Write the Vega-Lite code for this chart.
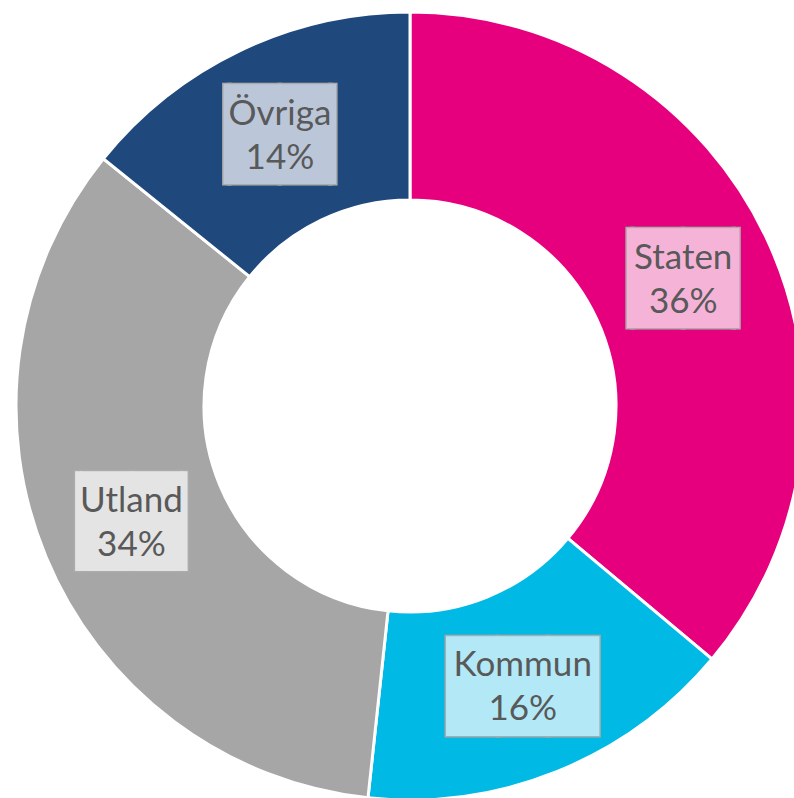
{
  "$schema": "https://vega.github.io/schema/vega-lite/v6.json",
  "width": 820,
  "height": 812,
  "autosize": "none",
  "padding": 0,
  "background": "white",
  "view": {"stroke": null},
  "data": {"values": [
    {"kategori": "Staten", "andel": 0.361, "nr": 1},
    {"kategori": "Kommun", "andel": 0.156, "nr": 2},
    {"kategori": "Utland", "andel": 0.341, "nr": 3},
    {"kategori": "Övriga", "andel": 0.142, "nr": 4}
  ]},
  "encoding": {
    "theta": {"field": "andel", "type": "quantitative", "stack": true},
    "order": {"field": "nr", "type": "quantitative"}
  },
  "layer": [
    {
      "mark": {"type": "arc", "outerRadius": 394, "innerRadius": 206, "stroke": "white", "strokeWidth": 3},
      "encoding": {
        "color": {"field": "kategori", "type": "nominal", "legend": null,
          "scale": {"domain": ["Staten", "Kommun", "Utland", "Övriga"], "range": ["#E6007E", "#00B9E4", "#A6A6A6", "#1F497D"]}}
      }
    },
    {
      "mark": {"type": "text", "radius": 301.5, "font": "DejaVu Sans Mono", "fontSize": 84, "baseline": "alphabetic", "dy": 29, "stroke": "#ABABAB", "strokeWidth": 3, "fill": "#ABABAB"},
      "encoding": {
        "text": {"condition": {"test": "datum.kategori === 'Kommun'", "value": "███"}, "value": "▕██▏"}
      }
    },
    {
      "mark": {"type": "text", "radius": 301.5, "font": "DejaVu Sans Mono", "fontSize": 84, "baseline": "alphabetic", "dy": 29},
      "encoding": {
        "text": {"condition": {"test": "datum.kategori === 'Kommun'", "value": "███"}, "value": "▕██▏"},
        "color": {"field": "kategori", "type": "nominal", "legend": null,
          "scale": {"domain": ["Staten", "Kommun", "Utland", "Övriga"], "range": ["#F6B3D8", "#B3E9F7", "#E4E4E4", "#BBC7D9"]}}
      }
    },
    {
      "mark": {"type": "text", "radius": 301.5, "font": "Lato", "fontSize": 35, "dy": -20.5, "color": "#595959"},
      "encoding": {"text": {"field": "kategori", "type": "nominal"}}
    },
    {
      "mark": {"type": "text", "radius": 301.5, "font": "Lato", "fontSize": 35, "dy": 23.5, "color": "#595959"},
      "encoding": {"text": {"field": "andel", "type": "quantitative", "format": ".0%"}}
    }
  ],
  "resolve": {"scale": {"color": "independent"}}
}
